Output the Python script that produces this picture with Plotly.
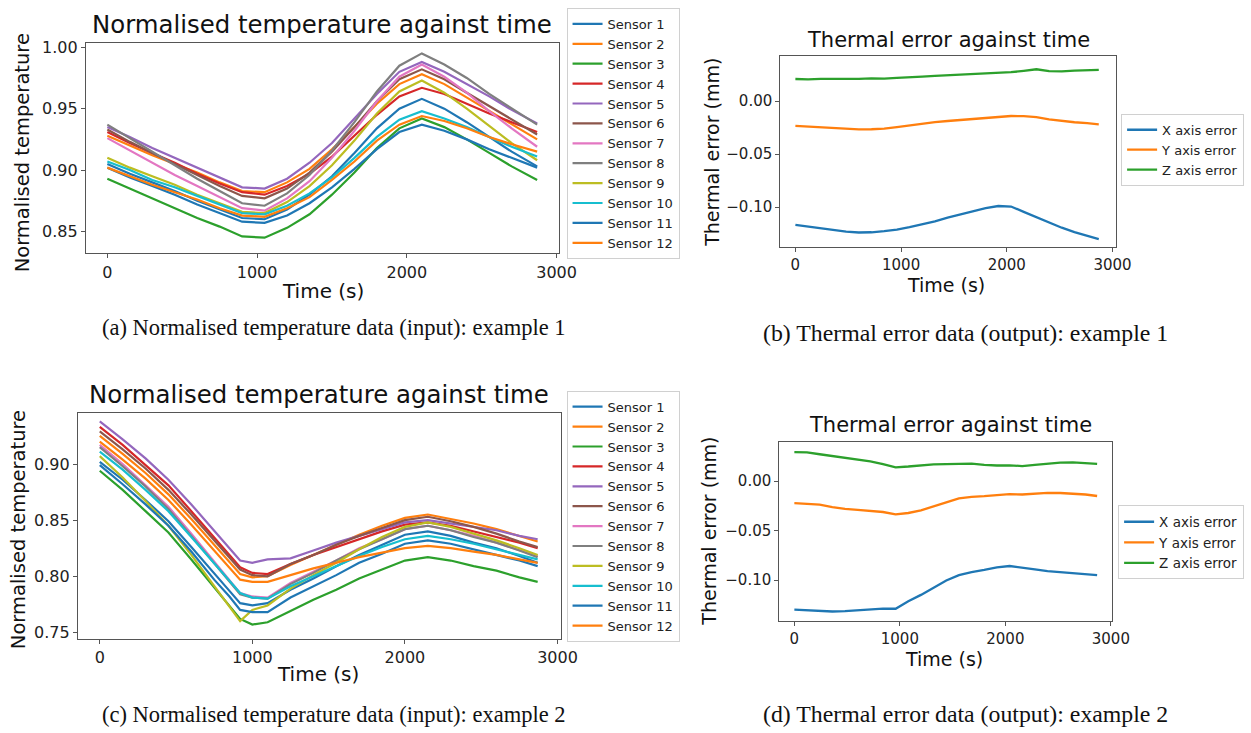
import plotly.graph_objects as go

REF_W, H = 1251, 733
W = 1268  # the capture squeezes the page horizontally by ~0.986

# ---------------- data: panel (a) ----------------
time_a = [0, 150, 300, 450, 600, 750, 900, 1050, 1200, 1350, 1500, 1650, 1800, 1950, 2100, 2250, 2400, 2550, 2700, 2870]
sensors_a = {
    "Sensor 1":  [.905, .897, .890, .883, .875, .868, .861, .860, .868, .880, .895, .914, .934, .950, .958, .950, .939, .927, .915, .903],
    "Sensor 2":  [.928, .920, .912, .905, .898, .890, .883, .882, .890, .901, .917, .935, .954, .970, .978, .970, .959, .948, .937, .925],
    "Sensor 3":  [.893, .885, .877, .869, .861, .854, .846, .845, .853, .864, .880, .898, .918, .934, .942, .935, .925, .914, .903, .892],
    "Sensor 4":  [.931, .922, .914, .906, .897, .889, .882, .880, .887, .897, .911, .928, .945, .960, .967, .962, .954, .946, .939, .931],
    "Sensor 5":  [.935, .927, .918, .910, .902, .894, .886, .885, .893, .906, .922, .942, .962, .980, .988, .980, .970, .960, .949, .938],
    "Sensor 6":  [.933, .923, .914, .905, .896, .887, .879, .877, .885, .898, .915, .935, .956, .974, .982, .974, .963, .952, .941, .929],
    "Sensor 7":  [.926, .916, .906, .896, .887, .878, .869, .867, .877, .891, .910, .932, .956, .976, .986, .976, .963, .948, .934, .919],
    "Sensor 8":  [.937, .926, .915, .904, .893, .883, .873, .871, .881, .896, .916, .939, .964, .985, .995, .986, .975, .962, .950, .937],
    "Sensor 9":  [.910, .902, .895, .888, .880, .873, .866, .865, .874, .887, .904, .924, .946, .964, .973, .963, .950, .936, .922, .908],
    "Sensor 10": [.907, .900, .892, .886, .879, .872, .865, .864, .871, .881, .894, .910, .927, .941, .948, .942, .935, .927, .919, .911],
    "Sensor 11": [.902, .894, .887, .880, .872, .865, .858, .857, .863, .873, .886, .901, .917, .931, .937, .932, .925, .917, .910, .902],
    "Sensor 12": [.902, .895, .888, .882, .876, .869, .863, .862, .869, .878, .892, .907, .924, .937, .944, .940, .934, .927, .921, .915],
}

# ---------------- data: panel (c) ----------------
time_c = [0, 150, 300, 450, 600, 750, 850, 920, 1000, 1100, 1250, 1400, 1550, 1700, 1850, 2000, 2150, 2300, 2450, 2600, 2750, 2870]
sensors_c = {
    "Sensor 1":  [.902, .886, .868, .849, .826, .802, .787, .776, .774, .776, .788, .798, .809, .819, .828, .837, .840, .836, .830, .825, .818, .812],
    "Sensor 2":  [.925, .909, .892, .873, .851, .828, .813, .802, .799, .800, .810, .819, .828, .837, .845, .852, .855, .851, .847, .842, .836, .831],
    "Sensor 3":  [.894, .877, .858, .839, .815, .790, .774, .762, .757, .759, .769, .779, .788, .798, .806, .814, .817, .814, .809, .805, .799, .795],
    "Sensor 4":  [.933, .917, .899, .881, .858, .834, .819, .808, .803, .802, .811, .819, .826, .833, .840, .846, .848, .845, .840, .835, .830, .825],
    "Sensor 5":  [.938, .922, .905, .886, .864, .840, .825, .814, .812, .815, .816, .823, .830, .836, .842, .848, .850, .847, .844, .841, .836, .833],
    "Sensor 6":  [.929, .913, .896, .877, .855, .832, .817, .806, .801, .800, .811, .819, .828, .836, .843, .850, .853, .849, .844, .838, .831, .826],
    "Sensor 7":  [.917, .900, .881, .862, .838, .813, .797, .785, .782, .781, .794, .804, .814, .825, .833, .842, .845, .841, .836, .830, .823, .818],
    "Sensor 8":  [.915, .898, .880, .860, .836, .812, .796, .784, .781, .780, .793, .803, .814, .824, .833, .842, .845, .841, .835, .830, .823, .817],
    "Sensor 9":  [.907, .888, .867, .845, .819, .791, .773, .760, .770, .774, .789, .801, .812, .824, .835, .844, .848, .844, .838, .832, .825, .819],
    "Sensor 10": [.911, .895, .877, .858, .835, .811, .796, .785, .781, .780, .791, .800, .809, .818, .826, .833, .836, .833, .829, .824, .819, .815],
    "Sensor 11": [.899, .882, .864, .845, .822, .797, .782, .770, .768, .768, .781, .791, .801, .812, .820, .829, .832, .829, .824, .819, .814, .809],
    "Sensor 12": [.920, .904, .887, .868, .846, .823, .808, .797, .795, .795, .801, .807, .812, .817, .821, .825, .827, .825, .822, .819, .815, .812],
}

# ---------------- data: panels (b) and (d) ----------------
time_e = [0, 120, 240, 360, 480, 600, 720, 840, 960, 1080, 1200, 1320, 1440, 1560, 1680, 1800, 1920, 2040, 2160, 2280, 2400, 2520, 2640, 2760, 2870]
errors_b = {
    "X axis error": [-.1168, -.1185, -.1203, -.1220, -.1232, -.1240, -.1238, -.1228, -.1213, -.1190, -.1165, -.1135, -.1100, -.1068, -.1038, -.1010, -.0990, -.0995, -.1045, -.1095, -.1147, -.1195, -.1236, -.1272, -.1303],
    "Y axis error": [-.0234, -.0240, -.0247, -.0255, -.0262, -.0268, -.0266, -.0260, -.0245, -.0228, -.0210, -.0198, -.0188, -.0178, -.0168, -.0158, -.0148, -.0141, -.0143, -.0152, -.0172, -.0189, -.0200, -.0208, -.0219],
    "Z axis error": [.0208, .0205, .0210, .0208, .0212, .0210, .0214, .0212, .0218, .0222, .0230, .0238, .0244, .0250, .0255, .0262, .0265, .0272, .0285, .0300, .0282, .0280, .0288, .0292, .0295],
}
errors_d = {
    "X axis error": [-.1300, -.1305, -.1312, -.1318, -.1315, -.1305, -.1295, -.1288, -.1290, -.1215, -.1150, -.1078, -.1005, -.0950, -.0920, -.0898, -.0872, -.0858, -.0872, -.0893, -.0910, -.0922, -.0930, -.0940, -.0950],
    "Y axis error": [-.0223, -.0228, -.0238, -.0262, -.0280, -.0290, -.0300, -.0312, -.0335, -.0322, -.0295, -.0258, -.0215, -.0175, -.0158, -.0152, -.0140, -.0132, -.0135, -.0125, -.0118, -.0120, -.0125, -.0135, -.0150],
    "Z axis error": [.0294, .0290, .0272, .0255, .0238, .0222, .0200, .0172, .0140, .0148, .0160, .0170, .0172, .0175, .0177, .0165, .0158, .0160, .0152, .0165, .0180, .0188, .0190, .0185, .0174],
}

x_ticks = [0, 1000, 2000, 3000]
x_tick_labels = ["0", "1000", "2000", "3000"]

titles = ["Normalised temperature against time", "Thermal error against time"]
captions = [
    "(a) Normalised temperature data (input): example 1",
    "(b) Thermal error data (output): example 1",
    "(c) Normalised temperature data (input): example 2",
    "(d) Thermal error data (output): example 2",
]

TAB10 = ['#1f77b4', '#ff7f0e', '#2ca02c', '#d62728', '#9467bd', '#8c564b',
         '#e377c2', '#7f7f7f', '#bcbd22', '#17becf', '#1f77b4', '#ff7f0e']

def px(x):
    return x / REF_W

def py(y):
    return 1 - y / H

fig = go.Figure()

panels = [
    ("", "legend", (86, 559), (38, 251), [-143, 3013], [0.8323, 1.0038]),
    ("2", "legend2", (781, 1117), (52, 245), [-142, 3034], [-0.1380, 0.0421]),
    ("3", "legend3", (78, 561), (412, 641), [-143, 3020], [0.7441, 0.9459]),
    ("4", "legend4", (780, 1113), (442, 623), [-142, 3012], [-0.1416, 0.0394]),
]

datasets = [(time_a, sensors_a, 2.2), (time_e, errors_b, 2.3), (time_c, sensors_c, 2.2), (time_e, errors_d, 2.3)]

axcol = '#555555'
for (suf, leg, xd, yd, xr, yr), (tt, series, lw) in zip(panels, datasets):
    for i, (name, vals) in enumerate(series.items()):
        fig.add_trace(go.Scatter(
            x=tt, y=vals, mode='lines', name=name,
            line=dict(color=TAB10[i], width=lw),
            xaxis='x' + suf, yaxis='y' + suf, legend=leg,
        ))
    fs = 16 if suf in ('', '3') else 15
    fig.layout['xaxis' + suf] = dict(
        domain=[px(xd[0]), px(xd[1])], range=xr, anchor='y' + suf,
        tickvals=x_ticks, ticktext=x_tick_labels,
        showline=True, mirror=True, linecolor=axcol, linewidth=1.2,
        ticks='outside', ticklen=4, tickcolor=axcol, showgrid=False, zeroline=False,
        tickfont=dict(family='DejaVu Sans', size=fs, color='#222'),
    )
    fig.layout['yaxis' + suf] = dict(
        domain=[py(yd[1]), py(yd[0])], range=yr, anchor='x' + suf,
        tickformat='.2f', dtick=0.05, tick0=0,
        showline=True, mirror=True, linecolor=axcol, linewidth=1.2,
        ticks='outside', ticklen=4, tickcolor=axcol, showgrid=False, zeroline=False,
        tickfont=dict(family='DejaVu Sans', size=fs, color='#222'),
    )

def ann(text, x, y, size, family='DejaVu Sans', angle=0, color='#111'):
    fig.add_annotation(text=text, x=px(x), y=py(y), xref='paper', yref='paper',
                       showarrow=False, xanchor='center', yanchor='middle',
                       textangle=angle, font=dict(family=family, size=size, color=color))

ann(titles[0], 322, 20, 24.4)
ann(titles[1], 949, 35, 21)
ann(titles[0], 319, 394, 24.4)
ann(titles[1], 951, 425, 21)

ann("Time (s)", 323, 289, 20)
ann("Time (s)", 947, 283, 19)
ann("Time (s)", 318, 676, 20)
ann("Time (s)", 945, 661, 19)

ann("Normalised temperature", 22, 149, 19.5, angle=-90)
ann("Thermal error (mm)", 713, 149, 19, angle=-90)
ann("Normalised temperature", 18, 530, 19.5, angle=-90)
ann("Thermal error (mm)", 710, 532, 19, angle=-90)

serif = 'Liberation Serif'
ann(captions[0], 334, 326, 22.5, family=serif)
ann(captions[1], 966, 332, 23.8, family=serif)
ann(captions[2], 334, 717, 22.5, family=serif)
ann(captions[3], 966, 717, 23.8, family=serif)

legcommon = dict(bgcolor='white', bordercolor='#d0d0d0', borderwidth=1,
                 xanchor='left', yanchor='top', itemwidth=30, tracegroupgap=0)

fig.update_layout(
    width=W, height=H, autosize=False,
    margin=dict(l=0, r=0, t=0, b=0),
    paper_bgcolor='white', plot_bgcolor='white',
    font=dict(family='DejaVu Sans', color='#222'),
    legend=dict(x=px(567), y=py(3), font=dict(size=13, family='DejaVu Sans', color='#222'), **legcommon),
    legend2=dict(x=px(1122), y=py(110), font=dict(size=13, family='DejaVu Sans', color='#222'), **legcommon),
    legend3=dict(x=px(567), y=py(390), font=dict(size=13, family='DejaVu Sans', color='#222'), **legcommon),
    legend4=dict(x=px(1119), y=py(506), font=dict(size=13.5, family='DejaVu Sans', color='#222'), **legcommon),
)

fig.write_html("out.html", config={'displayModeBar': False},
               post_script="document.body.style.margin='0px';document.body.style.overflow='hidden';")
